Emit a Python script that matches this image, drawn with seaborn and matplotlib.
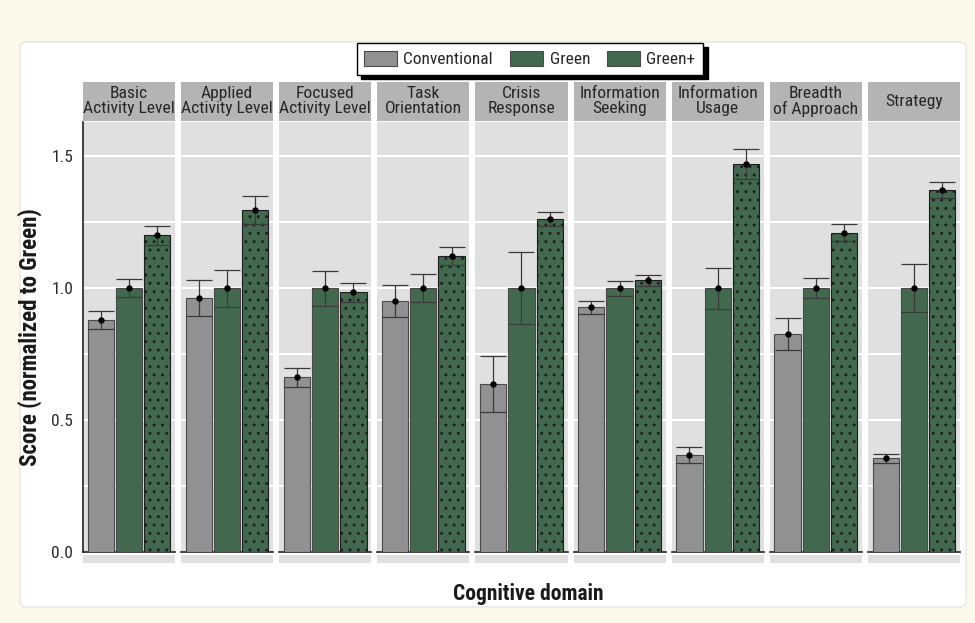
import matplotlib
matplotlib.use("Agg")
import matplotlib.pyplot as plt
from matplotlib import font_manager
from matplotlib.patches import Rectangle, FancyBboxPatch
import numpy as np
import pandas as pd
import seaborn as sns

sns.set_style("white")

# pick a narrow sans if one is around, else Liberation Sans
names = {(f.name, f.stretch) for f in font_manager.fontManager.ttflist}
narrow = None
for fam in ["Liberation Sans Narrow", "Roboto Condensed", "Open Sans Condensed"]:
    if any(n == fam for n, s in names):
        narrow = fam
        break
if narrow is None and ("DejaVu Sans", "condensed") in names:
    narrow = "DejaVu Sans"
    plt.rcParams["font.stretch"] = "condensed"
if narrow is not None:
    plt.rcParams["font.family"] = [narrow, "DejaVu Sans"]
    strip_fs, tick_fs, leg_fs, lab_fs = 12.6, 12.5, 12.5, 15.5
else:
    plt.rcParams["font.family"] = ["Liberation Sans", "DejaVu Sans"]
    strip_fs, tick_fs, leg_fs, lab_fs = 10.6, 11.5, 11.5, 13.5
plt.rcParams["hatch.linewidth"] = 0.95

# Data
domains = ["Basic\nActivity Level", "Applied\nActivity Level", "Focused\nActivity Level",
           "Task\nOrientation", "Crisis\nResponse", "Information\nSeeking",
           "Information\nUsage", "Breadth\nof Approach", "Strategy"]
conditions = ["Conventional", "Green", "Green+"]
conventional = [0.88, 0.963, 0.662, 0.951, 0.637, 0.927, 0.367, 0.827, 0.355]
conventional_err = [0.033, 0.067, 0.035, 0.06, 0.105, 0.024, 0.03, 0.06, 0.016]
green = [1.0, 1.0, 1.0, 1.0, 1.0, 1.0, 1.0, 1.0, 1.0]
green_err = [0.035, 0.07, 0.067, 0.054, 0.137, 0.029, 0.078, 0.037, 0.091]
green_plus = [1.2, 1.296, 0.984, 1.121, 1.261, 1.03, 1.47, 1.21, 1.373]
green_plus_err = [0.035, 0.053, 0.036, 0.035, 0.026, 0.021, 0.056, 0.033, 0.03]

colors = {"Conventional": "#8f9192", "Green": "#3b6f4b", "Green+": "#3b6f4b"}

df = pd.DataFrame({
    "domain": domains * 3,
    "condition": [c for c in conditions for _ in domains],
    "score": conventional + green + green_plus,
    "err": conventional_err + green_err + green_plus_err,
})

fig, axes = plt.subplots(1, 9, sharey=True, figsize=(9.75, 6.23), dpi=100)
fig.patch.set_facecolor("#fdf9ea")
fig.subplots_adjust(left=0.0851, right=0.9846, bottom=0.114, top=0.8042, wspace=0.066)

# white rounded card
card = FancyBboxPatch((20 / 975, 16 / 623), 946 / 975, 565 / 623,
                      boxstyle="round,pad=0,rounding_size=0.008",
                      transform=fig.transFigure, facecolor="white",
                      edgecolor="#e6e6e6", linewidth=1, zorder=-10)
fig.patches.append(card)

for i, (ax, dom) in enumerate(zip(axes, domains)):
    sub = df[df["domain"] == dom]
    sns.barplot(data=sub, x="domain", y="score", hue="condition", hue_order=conditions,
                palette=colors, errorbar=None, width=0.92, gap=0.07,
                edgecolor="#4a4a4a", linewidth=0.8, legend=(i == 0), ax=ax, zorder=3)
    for patch in ax.containers[2]:
        patch.set_hatch("..")
        patch.set_edgecolor("#1e1e1e")
    # error bars and mean points at bar centres
    for cont, cond in zip(ax.containers, conditions):
        row = sub[sub["condition"] == cond].iloc[0]
        xc = cont[0].get_x() + cont[0].get_width() / 2
        ax.errorbar(xc, row["score"], yerr=row["err"], fmt="none", ecolor="#3a3a3a",
                    elinewidth=0.9, capsize=9.5, capthick=0.9, zorder=4)
        ax.plot(xc, row["score"], "o", color="black", markersize=3.6, zorder=5)

    ax.set_facecolor("#e0e0e0")
    ax.set_ylim(0, 1.63)
    ax.set_xlim(-0.5, 0.5)
    ax.set_yticks([0, 0.5, 1.0, 1.5])
    ax.set_yticks(np.arange(0, 1.6, 0.25), minor=True)
    ax.grid(True, axis="y", which="both", color="white", linewidth=1.5, zorder=0)
    ax.set_axisbelow(True)
    ax.set_xticks([])
    ax.set_xlabel("")
    ax.set_ylabel("")
    for side in ["top", "right", "left"]:
        ax.spines[side].set_visible(False)
    ax.spines["bottom"].set_color("#222222")
    ax.spines["bottom"].set_linewidth(1.2)
    ax.tick_params(axis="y", length=0, labelsize=tick_fs, pad=7, labelcolor="#2a2a2a")

    # strip header
    ax.add_patch(Rectangle((0, 1.003), 1, 0.091, transform=ax.transAxes,
                           facecolor="#b4b4b4", edgecolor="none", clip_on=False))
    ax.text(0.5, 1.048, dom, transform=ax.transAxes, ha="center", va="center",
            fontsize=strip_fs, color="#262626", linespacing=0.98)
    # grey strip below the axis
    ax.add_patch(Rectangle((0, -0.026), 1, 0.019, transform=ax.transAxes,
                           facecolor="#e0e0e0", edgecolor="none", clip_on=False))

axes[0].spines["left"].set_visible(True)
axes[0].spines["left"].set_color("#222222")
axes[0].spines["left"].set_linewidth(1.2)

handles, labels = axes[0].get_legend_handles_labels()
axes[0].get_legend().remove()
leg = fig.legend(handles, labels, loc="upper center", bbox_to_anchor=(0.5436, 0.945),
                 ncol=3, frameon=True, fancybox=False,
                 shadow={"color": "black", "alpha": 1, "ox": 3, "oy": -3},
                 edgecolor="black", fontsize=leg_fs, handlelength=1.9, handleheight=1.0,
                 columnspacing=1.0, handletextpad=0.35, borderpad=0.45)
leg.get_frame().set_linewidth(1.0)

fig.text(0.031, 0.459, "Score (normalized to Green)", rotation=90, ha="center",
         va="center", fontsize=lab_fs + 1, fontweight="bold", color="#1a1a1a")
fig.text(0.5415, 0.047, "Cognitive domain", ha="center", va="center",
         fontsize=lab_fs, fontweight="bold", color="#1a1a1a")

fig.savefig("out.png", dpi=100, facecolor=fig.get_facecolor())
